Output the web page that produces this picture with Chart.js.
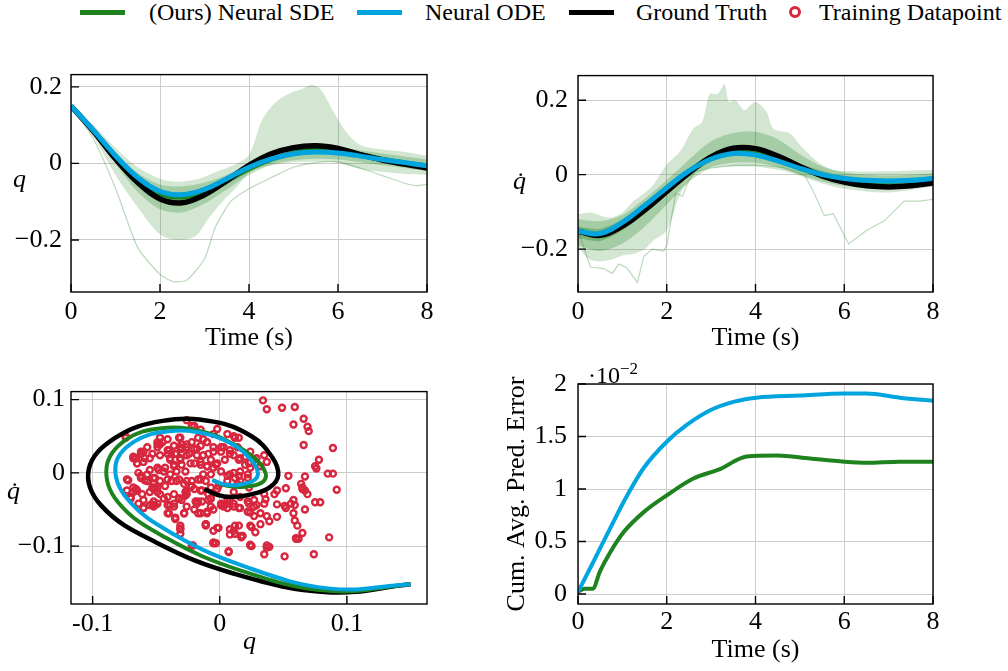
<!DOCTYPE html>
<html>
<head>
<meta charset="utf-8">
<script src="https://cdn.jsdelivr.net/npm/chart.js@4.4.1/dist/chart.umd.min.js"></script>
<style>
  body { margin: 0; background: #fff; }
  #page { position: relative; width: 1008px; height: 671px; overflow: hidden; font-family: "Liberation Serif", "Times New Roman", serif; color: #000; }
  canvas { position: absolute; }
  .lab { position: absolute; font-size: 26px; line-height: 26px; white-space: nowrap; }
  .math { font-style: italic; }
  .sw { position: absolute; top: 10px; height: 5px; width: 45px; }
  .lt { position: absolute; top: 0; font-size: 24px; line-height: 24px; white-space: nowrap; }
  .ring { position: absolute; top: 6px; width: 6px; height: 6px; border: 3px solid #d7263d; border-radius: 50%; }
</style>
</head>
<body>
<div id="page">
  <div class="sw" style="left:80px;background:#1e821e"></div>
  <div class="lt" style="left:149px">(Ours) Neural SDE</div>
  <div class="sw" style="left:357px;background:#00a5e0"></div>
  <div class="lt" style="left:425px">Neural ODE</div>
  <div class="sw" style="left:569px;background:#000"></div>
  <div class="lt" style="left:636px">Ground Truth</div>
  <div class="ring" style="left:789px"></div>
  <div class="lt" style="left:819px">Training Datapoint</div>

  <canvas id="cq" width="440" height="320" style="left:0;top:50px"></canvas>
  <canvas id="cqd" width="450" height="320" style="left:500px;top:50px"></canvas>
  <canvas id="cphase" width="440" height="301" style="left:0;top:370px"></canvas>
  <canvas id="cerr" width="450" height="316" style="left:500px;top:355px"></canvas>

  <div class="lab math" style="left:13px;top:166px">q</div>
  <div class="lab math" style="left:513px;top:168px">q&#775;</div>
  <div class="lab math" style="left:7px;top:478px">q&#775;</div>
  <div class="lab math" style="left:243px;top:628px">q</div>
  <div class="lab" style="left:588px;top:356px;font-size:24px">&middot;10<sup style="font-size:17px;vertical-align:9px">&minus;2</sup></div>
</div>
<script>
// time grid shared by the three model curves (s)
const tMain = [0, 0.5, 1, 1.5, 2, 2.5, 3, 3.5, 4, 4.5, 5, 5.5, 6, 6.5, 7, 7.5, 8];

// position q
const qTruth = [0.15, 0.085, 0.012, -0.05, -0.093, -0.103, -0.082, -0.045, -0.005, 0.025, 0.041, 0.046, 0.039, 0.023, 0.009, -0.002, -0.012];
const qOde = [0.15, 0.087, 0.02, -0.037, -0.073, -0.082, -0.068, -0.04, -0.01, 0.012, 0.025, 0.03, 0.027, 0.019, 0.01, 0.002, -0.006];
const qSde = [0.15, 0.086, 0.016, -0.043, -0.08, -0.089, -0.074, -0.046, -0.015, 0.01, 0.028, 0.036, 0.034, 0.024, 0.012, 0.002, -0.005];

// velocity q dot
const qdTruth = [-0.152, -0.163, -0.138, -0.095, -0.045, 0.005, 0.048, 0.071, 0.07, 0.05, 0.022, -0.003, -0.02, -0.03, -0.033, -0.03, -0.022];
const qdOde = [-0.152, -0.158, -0.128, -0.083, -0.035, 0.01, 0.042, 0.057, 0.053, 0.037, 0.017, 0.0, -0.01, -0.015, -0.017, -0.015, -0.01];
const qdSde = [-0.152, -0.161, -0.133, -0.088, -0.04, 0.008, 0.045, 0.061, 0.057, 0.04, 0.019, 0.0, -0.012, -0.018, -0.019, -0.016, -0.01];

// SDE sample spread for q
const qOuterT = [0, 0.5, 1, 1.5, 2, 2.4, 2.8, 3.1, 3.4, 3.7, 4, 4.3, 4.6, 4.9, 5.2, 5.4, 5.6, 5.9, 6.2, 6.5, 7, 7.5, 8];
const qOuterHi = [0.15, 0.1, 0.04, -0.01, -0.04, -0.048, -0.042, -0.03, -0.016, -0.002, 0.022, 0.115, 0.16, 0.182, 0.195, 0.205, 0.195, 0.135, 0.08, 0.048, 0.036, 0.03, 0.02];
const qOuterLo = [0.15, 0.07, -0.03, -0.115, -0.185, -0.2, -0.19, -0.142, -0.1, -0.065, -0.025, -0.01, -0.003, 0.002, 0.004, 0.004, 0.004, 0.003, -0.005, -0.015, -0.022, -0.028, -0.03];
const qMidHi = [0.15, 0.095, 0.03, -0.025, -0.055, -0.06, -0.05, -0.03, -0.002, 0.022, 0.038, 0.045, 0.042, 0.034, 0.026, 0.018, 0.01];
const qMidLo = [0.15, 0.078, 0.0, -0.075, -0.12, -0.128, -0.105, -0.068, -0.03, -0.004, 0.008, 0.012, 0.01, 0.003, -0.005, -0.012, -0.02];
const qInnerHi = [0.15, 0.09, 0.024, -0.033, -0.068, -0.076, -0.063, -0.037, -0.008, 0.017, 0.033, 0.04, 0.037, 0.027, 0.017, 0.008, 0.0];
const qInnerLo = [0.15, 0.082, 0.008, -0.056, -0.096, -0.105, -0.088, -0.056, -0.022, 0.003, 0.018, 0.025, 0.023, 0.014, 0.004, -0.005, -0.012];
const qThinT = [0, 0.5, 1, 1.5, 2, 2.3, 2.6, 3, 3.25, 3.6, 4, 4.5, 5, 5.5, 6, 6.5, 7, 7.5, 7.75, 8];
const qThin = [0.15, 0.065, -0.065, -0.22, -0.29, -0.309, -0.305, -0.25, -0.165, -0.098, -0.066, -0.037, -0.01, 0.002, 0.004, -0.012, -0.032, -0.052, -0.058, -0.055];

// SDE sample spread for q dot
const qdOuterT = [0, 0.3, 0.7, 1.0, 1.25, 1.5, 1.7, 2.0, 2.3, 2.6, 2.8, 2.97, 3.15, 3.3, 3.4, 3.55, 3.75, 4.0, 4.25, 4.4, 4.77, 5.0, 5.4, 5.75, 6.1, 7, 8];
const qdOuterHi = [-0.106, -0.102, -0.115, -0.102, -0.071, -0.049, -0.027, 0.027, 0.062, 0.124, 0.142, 0.217, 0.217, 0.243, 0.195, 0.2, 0.173, 0.195, 0.168, 0.124, 0.111, 0.08, 0.035, 0.013, 0.009, 0.009, 0.013];
const qdOuterLo = [-0.195, -0.23, -0.23, -0.217, -0.212, -0.2, -0.177, -0.15, -0.053, 0.0, 0.013, 0.018, 0.02, 0.022, 0.022, 0.022, 0.022, 0.022, 0.018, 0.015, 0.006, -0.003, -0.02, -0.032, -0.04, -0.048, -0.032];
const qdMidHi = [-0.12, -0.125, -0.108, -0.065, -0.015, 0.04, 0.09, 0.112, 0.115, 0.095, 0.055, 0.022, 0.006, 0.0, -0.002, 0.0, 0.004];
const qdMidLo = [-0.19, -0.205, -0.185, -0.14, -0.08, -0.02, 0.02, 0.032, 0.032, 0.02, 0.0, -0.018, -0.03, -0.036, -0.037, -0.033, -0.026];
const qdInnerHi = [-0.14, -0.145, -0.12, -0.077, -0.028, 0.018, 0.055, 0.072, 0.07, 0.053, 0.03, 0.01, -0.003, -0.009, -0.011, -0.009, -0.004];
const qdInnerLo = [-0.17, -0.178, -0.15, -0.105, -0.055, -0.005, 0.035, 0.05, 0.047, 0.03, 0.009, -0.01, -0.021, -0.026, -0.027, -0.024, -0.017];
const qdThinT = [0, 0.28, 0.58, 0.77, 0.92, 1.1, 1.34, 1.48, 1.67, 1.93, 2.0, 2.2, 2.35, 2.5, 2.65, 3.0, 3.5, 4.0, 4.6, 5.1, 5.3, 5.55, 5.75, 6.1, 6.5, 6.9, 7.35, 7.7, 8];
const qdThin = [-0.15, -0.248, -0.252, -0.265, -0.24, -0.25, -0.29, -0.22, -0.2, -0.205, -0.19, -0.05, -0.058, -0.015, 0.008, 0.018, 0.025, 0.026, 0.02, 0.0, -0.044, -0.11, -0.105, -0.186, -0.15, -0.124, -0.071, -0.071, -0.066];

// training datapoints (q, q dot)
const trainQ = [
  0.034, 0.037, 0.049, 0.059, 0.058, 0.066, 0.069, 0.070, 0.066, 0.089,
  0.078, 0.075, 0.076, 0.054, 0.067, 0.085, 0.089, 0.092, 0.064, 0.065,
  0.067, 0.069, 0.052, 0.058, 0.056, 0.059, 0.075, 0.079, 0.067, 0.051,
  0.052, 0.045, 0.058, 0.059, 0.061, 0.065, 0.060, 0.062, 0.086, 0.074,
  0.051, 0.035, 0.037, 0.039, 0.024, 0.017, 0.008, 0.015, 0.011, 0.025,
  -0.003, 0.007, -0.021, -0.001, -0.005, -0.011, -0.031, -0.031, -0.035, -0.028,
  -0.040, -0.051, -0.060, -0.052, -0.052, -0.072, -0.066, -0.065, -0.074, -0.060,
  -0.066, -0.064, -0.051, -0.049, -0.041, -0.036, -0.027, -0.019, -0.014, -0.015,
  -0.010, -0.007, -0.007, 0.001, 0.003, 0.006, 0.011, 0.015, 0.022, 0.024,
  0.023, 0.027, 0.029, 0.036, 0.035, 0.045, 0.037, 0.039, 0.032, 0.027,
  0.032, 0.043, 0.045, 0.035, 0.023, 0.011, 0.008, 0.016,
  -0.026, -0.020, -0.015, -0.002, -0.005, 0.006, 0.011, 0.015, -0.013, -0.022, -0.031, -0.041,
  -0.047, -0.049, -0.049, -0.057, -0.062, -0.068, -0.065, -0.060, -0.055, -0.047,
  -0.041, -0.039, -0.036, -0.031, -0.026, -0.018, -0.013, -0.007, -0.002, -0.005,
  -0.010, -0.015, -0.023, -0.030, -0.034, -0.039, -0.044, -0.049, -0.055, -0.057,
  -0.062, -0.057, -0.052, -0.047, -0.041, -0.034, -0.028, -0.022, -0.017, -0.011,
  -0.007, -0.013, 0.008, 0.012, 0.016, 0.022, 0.024, 0.020, 0.016, 0.011,
  0.008, 0.003, 0.001, -0.005, -0.010, -0.015, -0.020, -0.026, -0.030, -0.036,
  -0.040, -0.034, 0.024, 0.029, 0.032, 0.035, 0.037, 0.016, 0.014, 0.006,
  -0.002, -0.007, -0.015, -0.020, -0.026, -0.036, -0.041, -0.047, -0.055, -0.060,
  -0.068, -0.073, -0.070, -0.030, -0.026, -0.020,
  -0.005, 0.025, -0.031, -0.011, 0.037, 0.060, -0.053, -0.059, -0.068, -0.059, -0.052, -0.047, -0.030, 0.065, 0.017, 0.012,
  -0.074, -0.066, -0.062, -0.065, -0.053, -0.049, -0.045, -0.041, -0.039, -0.035,
  -0.032, -0.031, -0.026, -0.024, -0.022, -0.018, -0.017, -0.010, -0.009, -0.005,
  0.001, 0.004, 0.008, 0.012, 0.014, 0.015, 0.020, 0.023, 0.027,
  -0.062, -0.057, -0.052, -0.048, -0.043, -0.036, -0.031, -0.027, -0.020, -0.015, -0.010, -0.003, 0.001, 0.006, 0.011, 0.015, 0.022,
  -0.068, -0.061, -0.053, -0.049, -0.043, -0.038, -0.032, -0.026, -0.022, -0.015, -0.014, -0.009, -0.001,
  -0.073, -0.070, -0.064, -0.044, -0.032, -0.027, -0.018, -0.007, 0.001, 0.006, -0.039, -0.055,
  -0.066, -0.051, -0.049, -0.036, -0.032, -0.026, -0.017, -0.009, -0.005, 0.001,
  0.006, 0.011, 0.016, 0.022, 0.027, -0.060, -0.041, -0.035, -0.028, -0.017,
  -0.010, -0.031, -0.011, -0.002, 0.008, 0.012, 0.018, 0.024, -0.005, -0.022,
  0.007, 0.024, 0.028
];
const trainQd = [
  0.099, 0.087, 0.089, 0.090, 0.066, 0.074, 0.063, 0.057, 0.038, 0.034,
  0.018, 0.009, 0.006, -0.004, -0.005, -0.001, -0.001, -0.023, -0.015, -0.020,
  -0.024, -0.029, -0.021, -0.037, -0.042, -0.044, -0.040, -0.040, -0.050, -0.045,
  -0.048, -0.060, -0.055, -0.065, -0.072, -0.082, -0.089, -0.090, -0.088, -0.111,
  -0.114, -0.111, -0.099, -0.101, -0.098, -0.086, -0.084, -0.072, -0.079, -0.074,
  -0.096, -0.107, -0.099, -0.075, -0.079, -0.072, -0.076, -0.083, -0.063, -0.055,
  -0.055, -0.044, -0.048, -0.039, -0.046, -0.010, -0.022, -0.024, 0.048, 0.029,
  0.020, 0.000, -0.007, -0.020, -0.044, -0.042, -0.026, -0.039, -0.039, -0.055,
  -0.053, -0.046, -0.035, -0.044, -0.046, -0.042, -0.046, -0.048, -0.053, -0.054,
  -0.042, -0.037, -0.044, -0.036, -0.042, -0.043, -0.059, -0.066, -0.070, -0.059,
  -0.055, -0.029, -0.024, -0.029, -0.020, -0.026, -0.037, -0.033,
  0.072, 0.064, 0.059, 0.060, 0.053, 0.053, 0.050, 0.048, 0.046, 0.042, 0.048, 0.046,
  0.048, 0.042, 0.035, 0.035, 0.029, 0.022, 0.013, 0.015, 0.020, 0.024,
  0.026, 0.018, 0.011, 0.020, 0.024, 0.024, 0.024, 0.018, 0.013, 0.007,
  0.009, 0.011, 0.013, 0.011, 0.002, -0.002, 0.002, 0.007, 0.004, -0.002,
  -0.007, -0.011, -0.015, -0.011, -0.009, -0.011, -0.015, -0.011, -0.009, -0.011,
  -0.002, -0.002, -0.002, -0.007, 0.002, -0.002, 0.007, 0.011, 0.020, 0.024,
  0.031, 0.035, 0.029, 0.035, 0.042, 0.037, 0.033, 0.035, 0.033, 0.037,
  0.031, 0.026, 0.029, 0.020, 0.009, 0.024, 0.015, -0.011, -0.015, -0.011,
  -0.022, -0.020, -0.024, -0.022, -0.024, -0.029, -0.033, -0.029, -0.026, -0.037,
  -0.026, -0.024, -0.033, -0.037, -0.046, -0.050,
  -0.095, -0.100, -0.072, -0.070, -0.102, -0.090, -0.043, 0.020, 0.020, -0.010, -0.022, 0.039, 0.039, -0.022, -0.088, -0.083,
  0.050, 0.020, 0.026, 0.013, 0.026, 0.039, 0.042, 0.031, 0.020, 0.026,
  0.048, 0.035, 0.039, 0.026, 0.064, 0.033, 0.048, 0.042, 0.026, 0.029,
  0.035, 0.018, 0.026, 0.048, 0.035, 0.018, 0.022, 0.013, 0.018,
  -0.004, -0.011, -0.007, 0.004, 0.007, 0.009, 0.018, 0.002, 0.013, 0.015, 0.009, 0.011, 0.002, -0.004, 0.000, -0.004, -0.007,
  -0.020, -0.029, -0.020, -0.026, -0.018, -0.011, -0.009, -0.011, -0.018, -0.009, -0.024, -0.029, -0.018,
  -0.009, -0.035, -0.042, -0.035, -0.035, -0.031, -0.042, -0.035, -0.042, -0.037, -0.044, -0.044,
  -0.024, -0.020, -0.042, -0.046, -0.035, -0.029, -0.039, -0.037, -0.050, -0.044,
  -0.048, -0.042, -0.048, -0.039, -0.046, -0.048, -0.055, -0.061, -0.055, -0.055,
  -0.055, -0.077, -0.070, -0.075, -0.077, -0.072, -0.086, -0.072, -0.096, -0.099,
  -0.108, -0.099, -0.081
];

// cumulative average prediction error (x 10^-2)
const errOdeT = [0, 0.35, 0.73, 1.11, 1.48, 2, 2.45, 2.98, 3.5, 4.02, 5, 6, 6.5, 7.25, 8];
const errOde = [0.02, 0.31, 0.63, 0.94, 1.2, 1.45, 1.61, 1.75, 1.83, 1.87, 1.89, 1.91, 1.91, 1.87, 1.84];
const errSdeT = [0, 0.14, 0.33, 0.5, 0.73, 1.03, 1.48, 2, 2.6, 3.2, 3.8, 4.48, 5.23, 6, 6.5, 7.25, 8];
const errSde = [0.02, 0.05, 0.05, 0.22, 0.4, 0.59, 0.78, 0.94, 1.1, 1.19, 1.31, 1.32, 1.29, 1.26, 1.25, 1.26, 1.26];

// tick values and labels
const timeTicks = [0, 2, 4, 6, 8];
const timeTickLabels = ['0', '2', '4', '6', '8'];
const stateTicks = [-0.2, 0, 0.2];
const stateTickLabels = ['\u22120.2', '0', '0.2'];
const phaseQTicks = [-0.1, 0, 0.1];
const phaseQTickLabels = ['-0.1', '0', '0.1'];
const phaseQdTicks = [-0.1, 0, 0.1];
const phaseQdTickLabels = ['\u22120.1', '0', '0.1'];
const errTicks = [0, 0.5, 1, 1.5, 2];
const errTickLabels = ['0', '0.5', '1', '1.5', '2'];

const GREEN = '#1e821e';
const BLUE = '#00a5e0';
const BLACK = '#000000';
const RED = '#d7263d';

Chart.defaults.font.family = '"Liberation Serif", "Times New Roman", serif';
Chart.defaults.font.size = 26;
Chart.defaults.color = '#000';

function pts(xs, ys) {
  return xs.map((x, i) => ({ x: x, y: ys[i] }));
}

function band(t, hi, lo, color, order) {
  return [
    { data: pts(t, hi), fill: '+1', backgroundColor: color, borderColor: 'transparent', borderWidth: 0, pointRadius: 0, tension: 0.3, order: order },
    { data: pts(t, lo), fill: false, borderColor: 'transparent', borderWidth: 0, pointRadius: 0, tension: 0.3, order: order }
  ];
}

function curve(t, y, color, width, order, extra) {
  return Object.assign({ data: pts(t, y), borderColor: color, borderWidth: width, pointRadius: 0, fill: false, tension: 0.4, order: order, showLine: true }, extra || {});
}

function axis(min, max, ticks, labels, size, pad, title) {
  return {
    type: 'linear', min: min, max: max,
    afterBuildTicks: s => { s.ticks = ticks.map(v => ({ value: v })); },
    afterFit: s => { if (s.isHorizontal()) s.height = size; else s.width = size; },
    ticks: { padding: pad, autoSkip: false, maxRotation: 0, callback: (v, i) => labels[i] },
    grid: { color: '#cccccc', lineWidth: 1, drawTicks: false },
    border: { display: false },
    title: title ? Object.assign({ display: true, color: '#000' }, title) : { display: false }
  };
}

// box round the plot area and short inward tick marks
const framePlugin = {
  id: 'frame',
  afterDatasetsDraw(chart) {
    const { ctx, chartArea: a, scales } = chart;
    ctx.save();
    ctx.strokeStyle = '#000';
    ctx.lineWidth = 1.4;
    ctx.strokeRect(a.left, a.top, a.right - a.left, a.bottom - a.top);
    ctx.beginPath();
    scales.x.ticks.forEach(t => {
      const px = scales.x.getPixelForValue(t.value);
      ctx.moveTo(px, a.bottom); ctx.lineTo(px, a.bottom - 8);
    });
    scales.y.ticks.forEach(t => {
      const py = scales.y.getPixelForValue(t.value);
      ctx.moveTo(a.left, py); ctx.lineTo(a.left + 8, py);
    });
    ctx.stroke();
    ctx.restore();
  }
};

function baseOptions(padding, x, y) {
  return {
    responsive: false, animation: false, devicePixelRatio: 1,
    layout: { padding: padding },
    plugins: { legend: { display: false }, tooltip: { enabled: false } },
    elements: { point: { radius: 0 } },
    scales: { x: x, y: y }
  };
}

const timeTitle = { text: 'Time (s)', padding: { top: 0, bottom: 16 } };

new Chart(document.getElementById('cq'), {
  type: 'line',
  data: {
    datasets: [
      curve(tMain, qOde, BLUE, 5, 1),
      curve(tMain, qTruth, BLACK, 5.5, 2),
      curve(tMain, qSde, GREEN, 4, 3),
      curve(qThinT, qThin, 'rgba(30,130,30,0.3)', 1.2, 5, { tension: 0.2 }),
      ...band(tMain, qInnerHi, qInnerLo, 'rgba(30,130,30,0.35)', 6),
      ...band(tMain, qMidHi, qMidLo, 'rgba(30,130,30,0.25)', 7),
      ...band(qOuterT, qOuterHi, qOuterLo, 'rgba(30,130,30,0.2)', 8)
    ]
  },
  options: baseOptions({ top: 22, right: 13, left: 0, bottom: 0 },
    axis(0, 8, timeTicks, timeTickLabels, 78, 5, timeTitle),
    axis(-0.336, 0.232, stateTicks, stateTickLabels, 71, 9)),
  plugins: [framePlugin]
});

new Chart(document.getElementById('cqd'), {
  type: 'line',
  data: {
    datasets: [
      curve(tMain, qdOde, BLUE, 5, 1),
      curve(tMain, qdTruth, BLACK, 5.5, 2),
      curve(tMain, qdSde, GREEN, 4, 3),
      curve(qdThinT, qdThin, 'rgba(30,130,30,0.3)', 1.2, 5, { tension: 0 }),
      ...band(tMain, qdInnerHi, qdInnerLo, 'rgba(30,130,30,0.35)', 6),
      ...band(tMain, qdMidHi, qdMidLo, 'rgba(30,130,30,0.25)', 7),
      ...band(qdOuterT, qdOuterHi, qdOuterLo, 'rgba(30,130,30,0.2)', 8)
    ]
  },
  options: baseOptions({ top: 23, right: 17, left: 0, bottom: 0 },
    axis(0, 8, timeTicks, timeTickLabels, 78, 5, timeTitle),
    axis(-0.315, 0.266, stateTicks, stateTickLabels, 78, 10)),
  plugins: [framePlugin]
});

new Chart(document.getElementById('cphase'), {
  type: 'scatter',
  data: {
    datasets: [
      curve(qOde, qdOde, BLUE, 4, 1),
      curve(qSde, qdSde, GREEN, 4, 2),
      curve(qTruth, qdTruth, BLACK, 4.5, 3),
      {
        data: pts(trainQ, trainQd), showLine: false, order: 10,
        pointRadius: 3, pointBorderWidth: 2.4,
        pointBorderColor: RED, pointBackgroundColor: 'rgba(0,0,0,0)'
      }
    ]
  },
  options: baseOptions({ top: 14, right: 13, left: 0, bottom: 0 },
    axis(-0.117, 0.163, phaseQTicks, phaseQTickLabels, 67, 5),
    axis(-0.179, 0.111, phaseQdTicks, phaseQdTickLabels, 71, 6)),
  plugins: [framePlugin]
});

new Chart(document.getElementById('cerr'), {
  type: 'line',
  data: {
    datasets: [
      curve(errOdeT, errOde, BLUE, 4, 1, { cubicInterpolationMode: 'monotone' }),
      curve(errSdeT, errSde, GREEN, 4, 2, { cubicInterpolationMode: 'monotone' })
    ]
  },
  options: baseOptions({ top: 29, right: 17, left: 0, bottom: 0 },
    axis(0, 8, timeTicks, timeTickLabels, 67, 3, { text: 'Time (s)', padding: { top: 0, bottom: 5 } }),
    axis(-0.095, 2, errTicks, errTickLabels, 78, 11, { text: 'Cum. Avg. Pred. Error', padding: { top: 2, bottom: 0 } })),
  plugins: [framePlugin]
});
</script>
</body>
</html>
